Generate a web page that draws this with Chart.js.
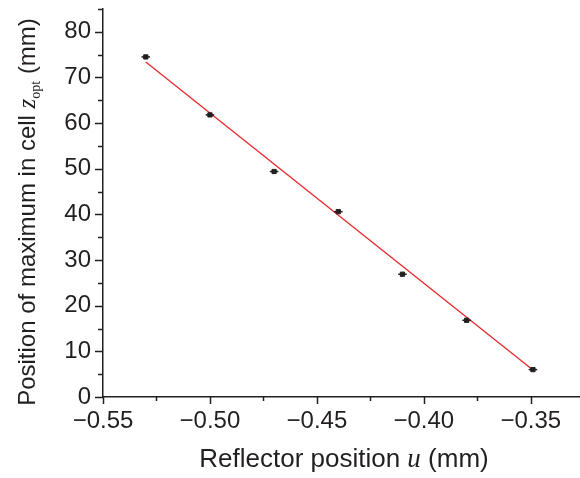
<!DOCTYPE html>
<html lang="en">
<head>
    <meta charset="UTF-8">
    <title>Reflector position vs z_opt</title>
    <script src="https://cdn.jsdelivr.net/npm/chart.js"></script>
    <style>
        html, body {
            margin: 0;
            padding: 0;
            background-color: #fff;
        }
        canvas {
            display: block;
        }
    </style>
</head>
<body>
    <canvas id="zoptChart" width="580" height="478"></canvas>
    <script>
        // measured points (reflector position u in mm, z_opt in mm)
        const positions = [-0.53, -0.50, -0.47, -0.44, -0.41, -0.38, -0.349];
        const zopt = [74.5, 61.8, 49.4, 40.6, 26.9, 16.8, 6.0];
        const xError = [0.002, 0.002, 0.002, 0.002, 0.002, 0.002, 0.002];

        // linear fit, end points
        const fitX = [-0.53, -0.349];
        const fitY = [73.4, 5.9];

        const sans = '"Liberation Sans", Arial, Helvetica, sans-serif';
        const serif = '"Liberation Serif", "Times New Roman", serif';
        const ink = '#231f20';

        const fmtX = v => {
            if (Math.abs(v * 20 - Math.round(v * 20)) > 1e-6) return '';
            return (v < 0 ? '\u2212' : '') + Math.abs(v).toFixed(2);
        };
        const fmtY = v => (Math.abs(v % 10) < 1e-6 ? String(v) : '');

        // error bars, tick marks and axis titles
        const extras = {
            id: 'extras',
            afterDatasetsDraw(chart) {
                const ctx = chart.ctx;
                const x = chart.scales.x, y = chart.scales.y;
                ctx.save();
                ctx.strokeStyle = ink;
                ctx.lineWidth = 1.5;
                positions.forEach((p, i) => {
                    const py = y.getPixelForValue(zopt[i]);
                    const x0 = x.getPixelForValue(p - xError[i]);
                    const x1 = x.getPixelForValue(p + xError[i]);
                    ctx.beginPath();
                    ctx.moveTo(x0, py);
                    ctx.lineTo(x1, py);
                    ctx.stroke();
                });
                ctx.restore();
            },
            afterDraw(chart) {
                const ctx = chart.ctx;
                const x = chart.scales.x, y = chart.scales.y;
                ctx.save();
                ctx.strokeStyle = ink;
                ctx.lineWidth = 1.5;
                y.ticks.forEach(t => {
                    const py = Math.round(y.getPixelForValue(t.value)) + 0.5;
                    const len = fmtY(t.value) ? 8 : 5;
                    ctx.beginPath();
                    ctx.moveTo(y.right - len, py);
                    ctx.lineTo(y.right, py);
                    ctx.stroke();
                });
                x.ticks.forEach(t => {
                    const px = Math.round(x.getPixelForValue(t.value)) + 0.5;
                    const len = fmtX(t.value) ? 7 : 4;
                    ctx.beginPath();
                    ctx.moveTo(px, x.top);
                    ctx.lineTo(px, x.top + len);
                    ctx.stroke();
                });

                ctx.fillStyle = ink;
                ctx.textBaseline = 'alphabetic';

                // x title
                const partsX = [
                    ['Reflector position ', '26px ' + sans, 0],
                    ['u', 'italic 27px ' + serif, 0],
                    [' (mm)', '26px ' + sans, 0]
                ];
                drawParts(ctx, partsX, 344, 467);

                // y title
                ctx.translate(35, 212);
                ctx.rotate(-Math.PI / 2);
                const partsY = [
                    ['Position of maximum in cell ', '24px ' + sans, 0],
                    ['z', 'italic 25px ' + serif, 0],
                    ['opt', '14px ' + serif, 5],
                    [' (mm)', '24px ' + sans, 0]
                ];
                drawParts(ctx, partsY, 0, 0);
                ctx.restore();
            }
        };

        // centred run of text pieces with their own fonts
        function drawParts(ctx, parts, cx, baseY) {
            let total = 0;
            parts.forEach(p => { ctx.font = p[1]; total += ctx.measureText(p[0]).width; });
            let px = cx - total / 2;
            ctx.textAlign = 'left';
            parts.forEach(p => {
                ctx.font = p[1];
                ctx.fillText(p[0], px, baseY + p[2]);
                px += ctx.measureText(p[0]).width;
            });
        }

        const chart = new Chart(document.getElementById('zoptChart'), {
            data: {
                datasets: [{
                    type: 'line',
                    label: 'fit',
                    data: fitX.map((v, i) => ({ x: v, y: fitY[i] })),
                    borderColor: '#e8272b',
                    borderWidth: 1.3,
                    pointRadius: 0,
                    fill: false,
                    order: 2
                }, {
                    type: 'scatter',
                    label: 'z_opt',
                    data: positions.map((v, i) => ({ x: v, y: zopt[i] })),
                    pointStyle: 'rect',
                    pointRadius: 3,
                    backgroundColor: ink,
                    borderColor: ink,
                    borderWidth: 1,
                    order: 1
                }]
            },
            options: {
                responsive: false,
                animation: false,
                events: [],
                layout: { autoPadding: false, padding: { top: 9, right: 0, left: 0, bottom: 0 } },
                plugins: {
                    legend: { display: false },
                    tooltip: { enabled: false }
                },
                scales: {
                    x: {
                        type: 'linear',
                        min: -0.55,
                        max: -0.327,
                        grid: { display: false, drawTicks: false },
                        border: { display: true, color: ink, width: 1.5 },
                        ticks: {
                            stepSize: 0.025,
                            includeBounds: false,
                            autoSkip: false,
                            maxRotation: 0,
                            padding: 10,
                            color: ink,
                            font: { family: sans, size: 24 },
                            callback: v => fmtX(v)
                        },
                        afterFit: s => {
                            s.height = 81;
                            s.paddingLeft = 0;
                            s.paddingRight = 0;
                        }
                    },
                    y: {
                        type: 'linear',
                        min: 0,
                        max: 85,
                        grid: { display: false, drawTicks: false },
                        border: { display: true, color: ink, width: 1.5 },
                        ticks: {
                            stepSize: 5,
                            autoSkip: false,
                            padding: 12,
                            color: ink,
                            font: { family: sans, size: 24 },
                            callback: v => fmtY(v)
                        },
                        afterFit: s => {
                            s.width = 103;
                            s.paddingTop = 0;
                            s.paddingBottom = 0;
                        }
                    }
                }
            },
            plugins: [extras]
        });
    </script>
</body>
</html>
